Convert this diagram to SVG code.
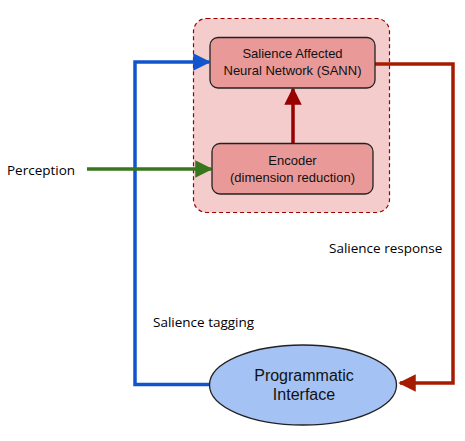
<svg xmlns="http://www.w3.org/2000/svg" width="465" height="441" viewBox="0 0 465 441">
<defs>
<style>
.box{fill:#ea9999;stroke:#222;stroke-width:1.3}
.nt{font-family:"Liberation Sans",Arial,sans-serif;font-size:13px;fill:#111;text-anchor:middle}
.lbl{font-family:"Open Sans","Noto Sans",sans-serif;font-size:13.5px;fill:#000}
.c{fill:none;stroke-width:3.5;stroke-linejoin:miter}
</style>
<marker id="ab" viewBox="0 0 10 10" refX="9" refY="5" markerWidth="6.5" markerHeight="5" orient="auto" markerUnits="strokeWidth"><path d="M0,0L10,5L0,10z" fill="#1155cc"/></marker>
<marker id="ag" viewBox="0 0 10 10" refX="9" refY="5" markerWidth="6.5" markerHeight="5" orient="auto" markerUnits="strokeWidth"><path d="M0,0L10,5L0,10z" fill="#38761d"/></marker>
<marker id="ar" viewBox="0 0 10 10" refX="9" refY="5" markerWidth="6.5" markerHeight="5" orient="auto" markerUnits="strokeWidth"><path d="M0,0L10,5L0,10z" fill="#a61c00"/></marker>
<marker id="ad" viewBox="0 0 10 10" refX="9" refY="5" markerWidth="6.5" markerHeight="5" orient="auto" markerUnits="strokeWidth"><path d="M0,0L10,5L0,10z" fill="#990000"/></marker>
</defs>
<rect width="465" height="441" fill="#fff"/>
<g id="container"><rect x="193.5" y="18.5" width="196" height="194" rx="13" fill="#f4cccc" stroke="#990000" stroke-width="1.2" stroke-dasharray="4,3"/></g>
<g id="connectors">
<path class="c" stroke="#1155cc" d="M210,384.5H135V62H209" marker-end="url(#ab)"/>
<path class="c" stroke="#38761d" d="M87,169H211" marker-end="url(#ag)"/>
<path class="c" stroke="#a61c00" d="M375,64H453V383H400" marker-end="url(#ar)"/>
<path class="c" stroke="#990000" d="M293,143V89" marker-end="url(#ad)"/>
</g>
<g id="sann"><rect class="box" x="210" y="37.5" width="165" height="50.5" rx="8"/>
<text class="nt" x="292.5" y="58">Salience Affected</text><text class="nt" x="292.5" y="75">Neural Network (SANN)</text></g>
<g id="encoder"><rect class="box" x="212" y="143.5" width="161" height="50.5" rx="8"/>
<text class="nt" x="292.5" y="165">Encoder</text><text class="nt" x="292.5" y="182">(dimension reduction)</text></g>
<g id="interface"><ellipse cx="303" cy="385" rx="93.5" ry="40" fill="#a4c2f4" stroke="#222" stroke-width="1.3"/>
<text class="nt" style="font-size:16px" x="304" y="381">Programmatic</text><text class="nt" style="font-size:16px" x="304" y="400">Interface</text></g>
<g id="labels">
<text class="lbl" x="7" y="175">Perception</text>
<text class="lbl" x="153" y="327">Salience tagging</text>
<text class="lbl" x="329" y="253">Salience response</text>
</g>
</svg>
